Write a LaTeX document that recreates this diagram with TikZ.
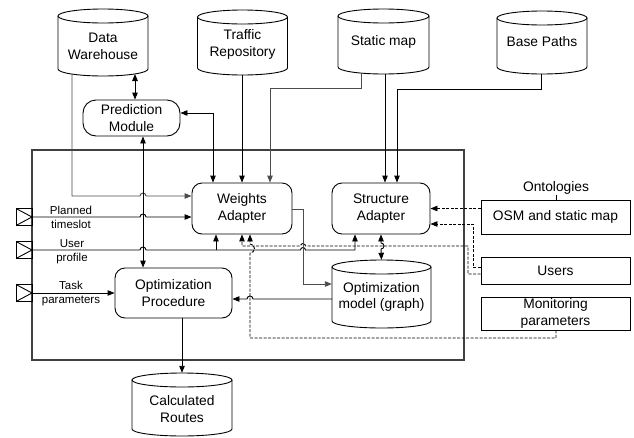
\documentclass[tikz,border=0pt]{standalone}
\usepackage{fontspec}
\setmainfont{Liberation Sans}
\usetikzlibrary{arrows.meta}

\tikzset{
  base/.style={font=\fontsize{13.8}{16.5}\selectfont, align=center, inner sep=0pt},
  rbox/.style={base, draw, rounded corners=10pt, line width=0.9pt},
  sbox/.style={base, draw, line width=0.9pt},
  lbl/.style={font=\fontsize{11.5}{13}\selectfont, inner sep=0pt, anchor=base},
  cylline/.style={line width=0.9pt},
  cylarea/.style={inner sep=0pt, rectangle},
  framebox/.style={draw=black!75, line width=1.2pt, inner sep=0pt},
  port/.style={draw, line width=0.9pt, inner sep=0pt, minimum width=16pt, minimum height=17pt,
    path picture={\draw[line width=0.9pt] (path picture bounding box.north west) -- (path picture bounding box.east) -- (path picture bounding box.south west);}},
  conn/.style={line width=0.9pt},
  arr/.style={conn, -{Triangle[length=7pt,width=5.5pt]}},
  darr/.style={conn, {Triangle[length=7pt,width=5.5pt]}-{Triangle[length=7pt,width=5.5pt]}},
  gline/.style={draw=black!70},
  dsh/.style={dash pattern=on 3pt off 1.5pt},
}

\newcommand\mycyl[7]{%
  \draw[cylline] ({#2-#3},{-#4-7}) -- ({#2-#3},{-#5+7}) arc[start angle=180,end angle=360,x radius=#3pt,y radius=7pt] -- ({#2+#3},{-#4-7});
  \draw[cylline] (#2,{-#4-7}) ellipse[x radius=#3pt,y radius=7pt];
  \node[cylarea, minimum width=2*#3pt, minimum height={(#5-#4)*1pt}] (#1) at (#2,{-(#4+#5)/2}) {};
  \node[base] (#1t) at (#2,-#6) {#7};
}

\begin{document}
\begin{tikzpicture}[x=1pt,y=1pt]
\useasboundingbox (0,0) rectangle (634,-437);

% frame
\node[framebox, minimum width=432pt, minimum height=210pt] (fr) at (248,-255) {};

% cylinders
\mycyl{dw}{103}{45}{9}{76}{46.5}{Data\\Warehouse}
\mycyl{tr}{242.5}{45}{10}{75}{44.5}{Traffic\\Repository}
\mycyl{sm}{383.5}{45.5}{9}{74}{42}{Static map}
\mycyl{bp}{542}{45}{11}{74}{42}{Base Paths}
\mycyl{om}{381.5}{49.5}{260}{328}{297}{Optimization\\model (graph)}
\mycyl{cr}{182}{50}{373}{436}{409}{Calculated\\Routes}

% boxes
\node[rbox, rounded corners=13pt, minimum width=97pt, minimum height=36pt] (pm) at (131.5,-118) {Prediction\\Module};
\node[rbox, minimum width=100pt, minimum height=51pt] (wa) at (242,-208.5) {Weights\\Adapter};
\node[rbox, minimum width=98pt, minimum height=51pt] (sa) at (381,-208.5) {Structure\\Adapter};
\node[rbox, minimum width=117pt, minimum height=50pt] (op) at (173.5,-293) {Optimization\\Procedure};
\node[sbox, minimum width=149pt, minimum height=34pt] (osm) at (555.5,-217) {OSM and static map};
\node[sbox, minimum width=149pt, minimum height=27pt] (us) at (555.5,-270.5) {Users};
\node[sbox, minimum width=149pt, minimum height=33pt] (mp) at (555.5,-313.5) {Monitoring\\parameters};
\node[base] (ont) at (556,-188) {Ontologies};

% ports
\node[port] (p1) at (24,-217) {};
\node[port] (p2) at (24,-250) {};
\node[port] (p3) at (24,-293) {};

% port labels
\node[lbl] (l1a) at (71,-214) {Planned};
\node[lbl] (l1b) at (71,-228) {timeslot};
\node[lbl] (l2a) at (72,-247) {User};
\node[lbl] (l2b) at (72,-261) {profile};
\node[lbl] (l3a) at (71,-289) {Task};
\node[lbl] (l3b) at (71,-303) {parameters};

% connectors
\draw[darr] (135,-74) -- ([xshift=3.5pt]pm.north);
\draw[arr, gline] (72,-74) -- (72,-196) -- (140,-196) arc[start angle=180,end angle=0,radius=3pt] -- ([yshift=12.5pt]wa.west);
\draw[darr] ([yshift=5pt]pm.east) -| ([xshift=-29pt]wa.north);
\draw[arr] (tr.south -| wa.north) -- (wa.north);
\draw[arr, gline] (361,-73) |- (270,-88) -- ([xshift=28pt]wa.north);
\draw[arr] (385,-74) -- ([xshift=4pt]sa.north);
\draw[arr] (541,-74) |- (397,-89) -- ([xshift=16pt]sa.north);
\draw[darr] ([xshift=11.5pt]pm.south) -- ([xshift=-30.5pt]op.north);
\draw[arr] (p1.east) -- (140,-217) arc[start angle=180,end angle=0,radius=3pt] -- ([yshift=-8.5pt]wa.west);
\draw[arr] (p2.east) -- (140,-250) arc[start angle=180,end angle=0,radius=3pt] -- (300.5,-250) arc[start angle=180,end angle=0,radius=2.5pt] -- (355,-250) -- ([xshift=-26pt]sa.south);
\draw[arr] (216,-250) -- ([xshift=-26pt]wa.south);
\draw[arr] (op.west -| p3.east) -- (op.west);
\draw[arr, gline] ([yshift=-0.5pt]wa.east) -| (303,-284) -- ([yshift=10pt]om.west);
\draw[arr] ([yshift=-5pt]om.west) -- (253,-299) arc[start angle=0,end angle=180,radius=3pt] -- ([yshift=-6pt]op.east);
\draw[darr] (sa.south) -- (381,-243) arc[start angle=90,end angle=-90,radius=3pt] -- (om.north);
\draw[arr] (cr.north |- op.south) -- (cr.north);

% dashed connectors
\draw[arr, dsh] ([yshift=8.5pt]osm.west) -- (sa.east);
\draw[arr, dsh] ([yshift=3.5pt]us.west) -| (473,-224) -- ([yshift=-15.5pt]sa.east);
\draw[arr, dsh] ([yshift=-3.5pt]us.west) -| (468,-246) -- (305.5,-246) arc[start angle=0,end angle=180,radius=2.5pt] -- (242,-246) -- (wa.south);
\draw[arr, dsh] (mp.south -| ont.south) -- (556,-338) -- (250,-338) -- (250,-253) arc[start angle=-90,end angle=90,radius=4.5pt] -- ([xshift=8pt]wa.south);
\draw[conn] (ont.south) -- (ont.south |- osm.north);
\end{tikzpicture}
\end{document}
